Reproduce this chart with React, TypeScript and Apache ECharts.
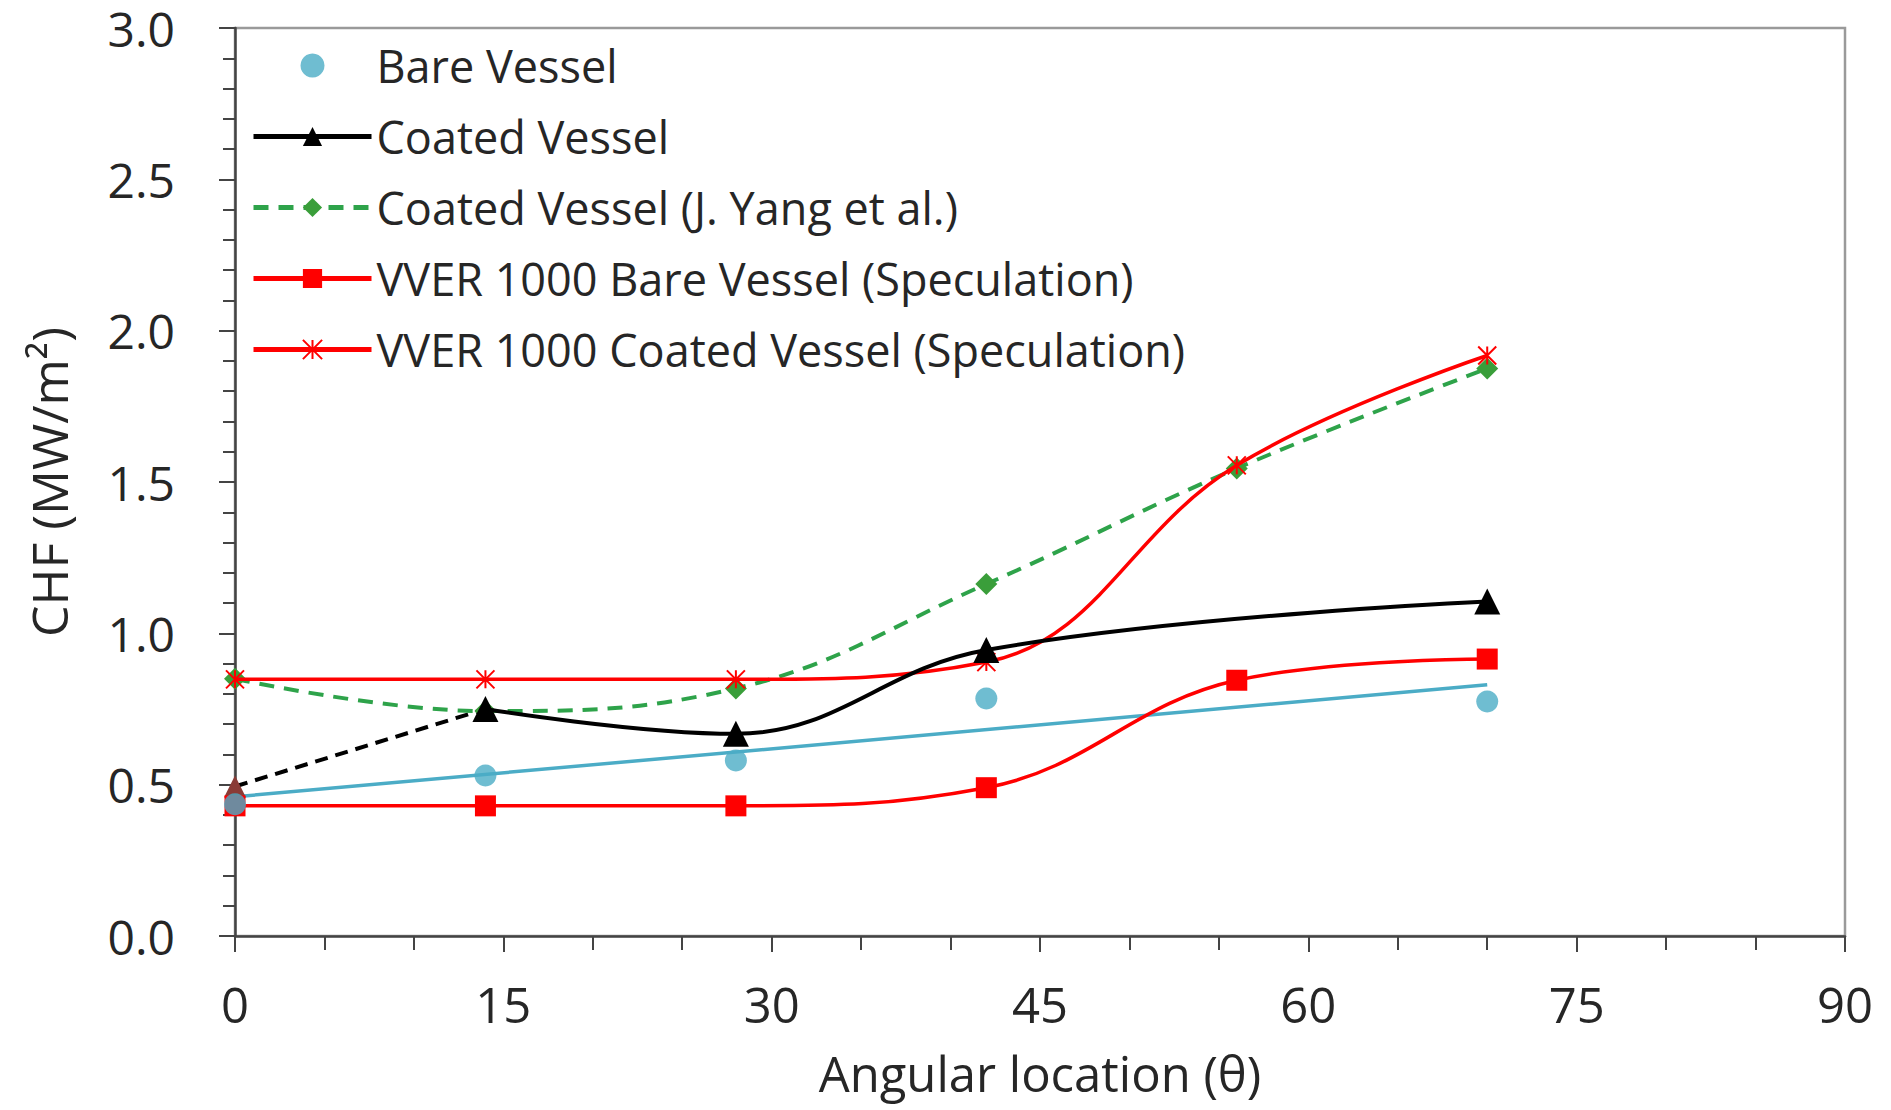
import React, { useEffect, useRef } from "react";
import * as echarts from "echarts";

const angles = [0, 14, 28, 42, 56, 70];
const bareVessel = [0.435, 0.53, 0.58, 0.785, null, 0.775];
const bareTrendX = [0, 70];
const bareTrendY = [0.46, 0.83];
const coatedX = [14, 28, 42, 70];
const coatedY = [0.75, 0.668, 0.945, 1.105];
const coatedExtrapX = [0, 14];
const coatedExtrapY = [0.494, 0.75];
const yangY = [0.85, 0.743, 0.818, 1.163, 1.545, 1.875];
const vverBareY = [0.43, 0.43, 0.43, 0.49, 0.845, 0.915];
const vverCoatedY = [0.848, 0.848, 0.848, 0.905, 1.555, 1.918];

const xTicks = [0, 15, 30, 45, 60, 75, 90];
const yTicks = [0, 0.5, 1.0, 1.5, 2.0, 2.5, 3.0];

const FONT = "Open Sans";
const TEXT = "#262626";

const pairs = (xs: number[], ys: (number | null)[]) =>
  xs.map((x, i) => [x, ys[i]]).filter((p) => p[1] !== null);

const crossPath = "path://M0,0L10,10M10,0L0,10M5,0L5,10";

export default function App() {
  const ref = useRef<HTMLDivElement>(null);
  useEffect(() => {
    if (!ref.current) return;
    const chart = echarts.init(ref.current, undefined, { renderer: "svg" });
    chart.setOption({
      animation: false,
      backgroundColor: "#ffffff",
      textStyle: { fontFamily: FONT },
      grid: {
        left: 235,
        right: 46,
        top: 28,
        bottom: 174,
        show: true,
        borderColor: "#9a9a9a",
        borderWidth: 2.5,
      },
      legend: {
        orient: "vertical",
        left: 246,
        top: 38,
        itemWidth: 118,
        itemHeight: 24,
        itemGap: 26,
        lineStyle: { width: 5 },
        textStyle: { fontSize: 45, color: TEXT, fontFamily: FONT, lineHeight: 44 },
        data: [
          "Bare Vessel",
          "Coated Vessel",
          "Coated Vessel (J. Yang et al.)",
          "VVER 1000 Bare Vessel (Speculation)",
          "VVER 1000 Coated Vessel (Speculation)",
        ],
      },
      xAxis: {
        type: "value",
        min: xTicks[0],
        max: xTicks[xTicks.length - 1],
        interval: 15,
        name: "Angular location (θ)",
        nameLocation: "middle",
        nameGap: 115,
        nameTextStyle: { fontSize: 49, color: TEXT, fontFamily: FONT, lineHeight: 44 },
        axisLine: { onZero: false, lineStyle: { color: "#444", width: 2.5 } },
        axisTick: { show: true, inside: false, length: 16, lineStyle: { color: "#444", width: 2 } },
        minorTick: { show: true, splitNumber: 3, length: 14, lineStyle: { color: "#444", width: 2 } },
        axisLabel: { fontSize: 49, color: TEXT, margin: 43, fontFamily: FONT, lineHeight: 49 },
        splitLine: { show: false },
      },
      yAxis: {
        type: "value",
        min: yTicks[0],
        max: yTicks[yTicks.length - 1],
        interval: 0.5,
        name: "CHF (MW/m²)",
        nameLocation: "middle",
        nameGap: 161,
        nameRotate: 90,
        nameTextStyle: { fontSize: 50, color: TEXT, fontFamily: FONT, lineHeight: 50 },
        axisLine: { onZero: false, lineStyle: { color: "#444", width: 2.5 } },
        axisTick: { show: true, inside: false, length: 16, lineStyle: { color: "#444", width: 2 } },
        minorTick: { show: true, splitNumber: 5, length: 12, lineStyle: { color: "#444", width: 2 } },
        axisLabel: {
          fontSize: 48,
          lineHeight: 40,
          color: TEXT,
          margin: 60,
          fontFamily: FONT,
          formatter: (v: number) => v.toFixed(1),
        },
        splitLine: { show: false },
      },
      series: [
        {
          name: "Bare Vessel trend",
          type: "line",
          data: pairs(bareTrendX, bareTrendY),
          showSymbol: false,
          symbol: "none",
          lineStyle: { color: "#4BACC6", width: 3.5 },
          z: 2,
        },
        {
          name: "Coated Vessel extrapolation",
          type: "line",
          data: pairs(coatedExtrapX, coatedExtrapY),
          symbol: "triangle",
          symbolSize: 22,
          itemStyle: { color: "#8a3b36" },
          lineStyle: { color: "#000", width: 4, type: [13, 8] },
          z: 3,
        },
        {
          name: "Coated Vessel (J. Yang et al.)",
          type: "line",
          smooth: 0.4,
          data: pairs(angles, yangY),
          symbol: "diamond",
          symbolSize: 22,
          itemStyle: { color: "#3a9e3a" },
          lineStyle: { color: "#2ea34a", width: 4, type: [15, 10] },
          z: 3,
        },
        {
          name: "VVER 1000 Bare Vessel (Speculation)",
          type: "line",
          smooth: 0.4,
          data: pairs(angles, vverBareY),
          symbol: "rect",
          symbolSize: 21,
          itemStyle: { color: "#ff0000" },
          lineStyle: { color: "#ff0000", width: 3.5 },
          z: 4,
        },
        {
          name: "VVER 1000 Coated Vessel (Speculation)",
          type: "line",
          smooth: 0.4,
          data: pairs(angles, vverCoatedY),
          symbol: crossPath,
          symbolSize: 18,
          itemStyle: { color: "transparent", borderColor: "#ff0000", borderWidth: 2 },
          lineStyle: { color: "#ff0000", width: 3.5 },
          z: 4,
        },
        {
          name: "Coated Vessel",
          type: "line",
          smooth: 0.4,
          data: pairs(coatedX, coatedY),
          symbol: "triangle",
          symbolSize: 26,
          itemStyle: { color: "#000" },
          lineStyle: { color: "#000", width: 4 },
          z: 5,
        },
        {
          name: "Bare Vessel",
          type: "scatter",
          data: pairs(angles, bareVessel),
          symbol: "circle",
          symbolSize: 22,
          itemStyle: { color: "#4BACC6" },
          z: 6,
        },
      ],
    });
    return () => chart.dispose();
  }, []);
  return (
    <div
      ref={ref}
      style={{ position: "absolute", left: 0, top: 0, width: 1891, height: 1110, background: "#fff" }}
    />
  );
}
